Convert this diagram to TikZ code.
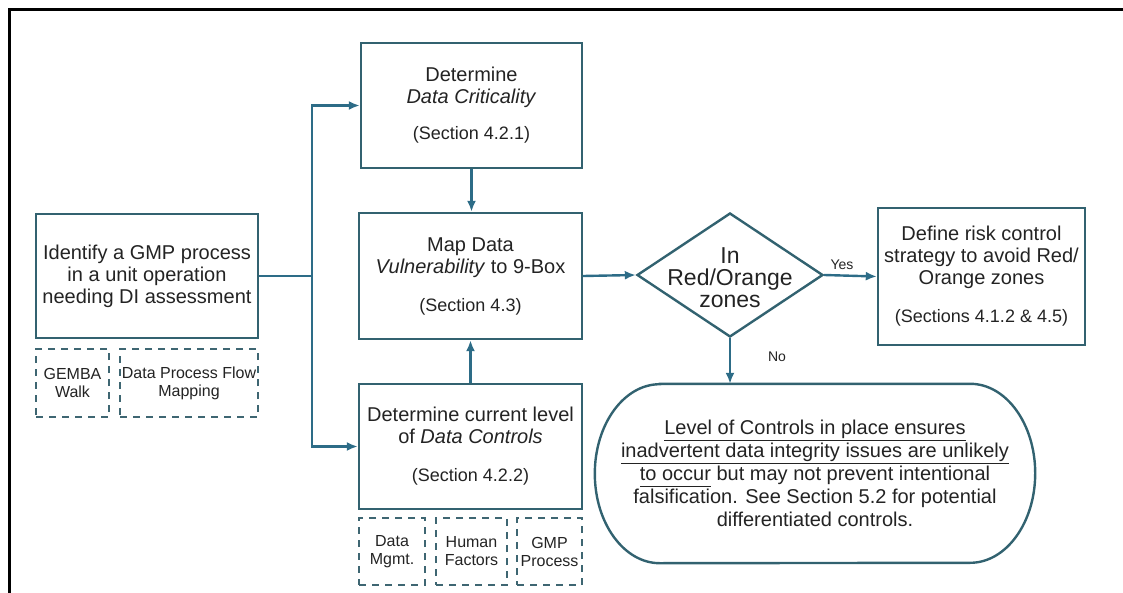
\documentclass[tikz,border=0pt]{standalone}
\usepackage{fontspec}
\setmainfont{Liberation Sans}
\usetikzlibrary{arrows.meta,shapes.geometric}
\definecolor{ln}{RGB}{45,108,135}
\definecolor{bx}{RGB}{50,98,112}
\definecolor{tx}{RGB}{35,35,35}
\newcommand{\myul}[1]{\underline{\vphantom{gy}#1}}
\begin{document}
\begin{tikzpicture}[x=1pt,y=-1pt,
  box/.style={draw=bx,line width=2.4pt,align=center,inner sep=0pt,text=tx,font=\fontsize{20}{22}\selectfont},
  dbox/.style={draw=bx!85!gray,line width=2pt,dash pattern=on 7pt off 6pt,align=center,inner sep=0pt,text=tx,font=\fontsize{16}{18}\selectfont},
  conn/.style={draw=ln,line width=2.4pt},
  arr/.style={conn,-{Latex[length=11pt,width=9pt]}},
  lbl/.style={text=tx,font=\fontsize{14}{16}\selectfont,inner sep=0pt}]
\useasboundingbox (0,0) rectangle (1123,593);
% frame
\draw[line width=3pt,black] (9,593) -- (9,9.5) -- (1123,9.5);

% left box
\node[box,minimum width=222pt,minimum height=124pt] (A) at (147,276) {Identify a GMP process\\in a unit operation\\needing DI assessment};
\node[dbox,minimum width=73pt,minimum height=68pt] (g1) at (72.5,383) {GEMBA\\Walk};
\node[dbox,minimum width=138pt,minimum height=68pt] (g2) at (189,383) {Data Process Flow\\Mapping};

% middle column
\node[box,minimum width=221pt,minimum height=125pt] (B) at (471.5,105.5) {Determine\\\textit{Data Criticality}\\[14pt]{\fontsize{18}{20}\selectfont(Section 4.2.1)}};
\node[box,minimum width=223pt,minimum height=126pt] (C) at (470.5,276) {Map Data\\\textit{Vulnerability} to 9-Box\\[16pt]{\fontsize{18}{20}\selectfont(Section 4.3)}};
\node[box,minimum width=223pt,minimum height=125pt] (D) at (470.5,446.5) {Determine current level\\of \textit{Data Controls}\\[16pt]{\fontsize{18}{20}\selectfont(Section 4.2.2)}};
\node[dbox,minimum width=66pt,minimum height=67pt] (d1) at (392,551.5) {Data\\Mgmt.};
\node[dbox,minimum width=71pt,minimum height=67pt] (d2) at (471.5,551.5) {Human\\Factors};
\node[dbox,minimum width=65pt,minimum height=67pt] (d3) at (549.5,551.5) {GMP\\Process};

% decision
\node[diamond,draw=bx,line width=2.4pt,minimum width=186pt,minimum height=124pt,inner sep=0pt] (dia) at (730,275) {};
\node[align=center,text=tx,inner sep=0pt,font=\fontsize{23}{22}\selectfont] (diat) at (730,278) {In\\Red/Orange\\zones};

% right box
\node[box,minimum width=207pt,minimum height=137pt] (E) at (981.5,276.5) {Define risk control\\strategy to avoid Red/\\Orange zones\\[16pt]{\fontsize{18}{20}\selectfont(Sections 4.1.2 \& 4.5)}};

% terminal
\node[align=center,text=tx,inner sep=0pt,minimum width=440pt,minimum height=179pt,font=\fontsize{20}{23}\selectfont] (T) at (815,473.5)
 {\myul{Level of Controls in place ensures}\\\myul{inadvertent data integrity issues are unlikely}\\\myul{to occur} but may not prevent intentional\\falsification. See Section 5.2 for potential\\differentiated controls.};
\draw[draw=bx,line width=2.4pt] ([xshift=65pt]T.north west) -- ([xshift=-65pt]T.north east)
  arc[start angle=90,end angle=-90,x radius=65pt,y radius=89.5pt]
  -- ([xshift=65pt]T.south west)
  arc[start angle=270,end angle=90,x radius=65pt,y radius=89.5pt] -- cycle;

% connectors
\coordinate (j) at (312,276);
\draw[conn] (A.east) -- (j);
\draw[arr] (j) |- (B.west);
\draw[arr] (j) |- (D.west);
\draw[arr] (B.south) -- (B.south |- C.north);
\draw[arr] (D.north) -- (D.north |- C.south);
\draw[arr] (C.east) -- (dia.west);
\draw[arr] (dia.east) -- (E.west);
\draw[arr] (dia.south) -- (dia.south |- T.north);
\node[lbl] (yes) at (842,265) {Yes};
\node[lbl] (no) at (777,357) {No};
\end{tikzpicture}
\end{document}
